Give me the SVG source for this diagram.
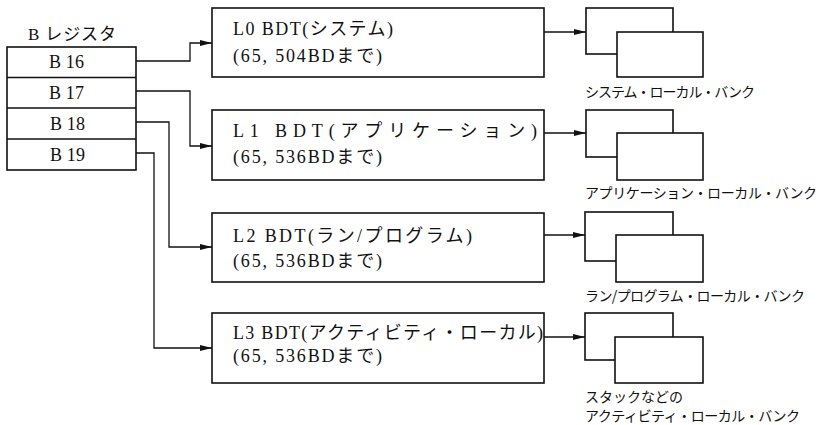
<svg xmlns="http://www.w3.org/2000/svg" width="819" height="425" viewBox="0 0 819 425">
<style>
.box{fill:#fff;stroke:#111;stroke-width:1.6}
.ln{fill:none;stroke:#111;stroke-width:1.3}
.t{font-family:"Liberation Serif","Noto Sans CJK JP",serif;fill:#111}
.lt{font-size:18px}
.rt{font-size:18px}
.bk{font-family:"Noto Sans CJK JP","Noto Sans",sans-serif;font-size:14px;fill:#111}
</style>
<defs>
<marker id="ah" markerWidth="12" markerHeight="8" refX="12" refY="4" orient="auto" markerUnits="userSpaceOnUse">
<path d="M0,1 L12,4 L0,7 Z" fill="#111"/>
</marker>
</defs>
<rect width="819" height="425" fill="#fff"/>

<g id="bregister">
<text class="t" x="28" y="40" font-size="17" textLength="88" lengthAdjust="spacing">B レジスタ</text>
<rect class="box" x="7" y="47" width="129" height="123"/>
<line class="ln" x1="7" y1="77.5" x2="136" y2="77.5"/>
<line class="ln" x1="7" y1="108" x2="136" y2="108"/>
<line class="ln" x1="7" y1="139" x2="136" y2="139"/>
<text class="t rt" x="49" y="68" textLength="35" lengthAdjust="spacing">B 16</text>
<text class="t rt" x="49" y="99" textLength="35" lengthAdjust="spacing">B 17</text>
<text class="t rt" x="50" y="130" textLength="35" lengthAdjust="spacing">B 18</text>
<text class="t rt" x="50" y="161" textLength="35" lengthAdjust="spacing">B 19</text>
</g>

<g id="l0">
<rect class="box" x="212" y="8" width="332" height="69"/>
<text class="t lt" x="233" y="35" textLength="160" lengthAdjust="spacing">L0 BDT(システム)</text>
<text class="t lt" x="233" y="62" textLength="149" lengthAdjust="spacing">(65, 504BDまで)</text>
</g>
<g id="l1">
<rect class="box" x="212" y="110" width="332" height="70"/>
<text class="t lt" x="233" y="137" textLength="304" lengthAdjust="spacing">L1 BDT(アプリケーション)</text>
<text class="t lt" x="233" y="163" textLength="149" lengthAdjust="spacing">(65, 536BDまで)</text>
</g>
<g id="l2">
<rect class="box" x="212" y="213" width="332" height="69"/>
<text class="t lt" x="233" y="242" textLength="239" lengthAdjust="spacing">L2 BDT(ラン/プログラム)</text>
<text class="t lt" x="233" y="267" textLength="149" lengthAdjust="spacing">(65, 536BDまで)</text>
</g>
<g id="l3">
<rect class="box" x="212" y="313" width="332" height="70"/>
<text class="t lt" x="233" y="339" textLength="310" lengthAdjust="spacing">L3 BDT(アクティビティ・ローカル)</text>
<text class="t lt" x="233" y="362" textLength="149" lengthAdjust="spacing">(65, 536BDまで)</text>
</g>

<g id="bank0">
<rect class="box" x="586" y="8" width="87" height="46"/>
<rect class="box" x="617" y="32" width="86" height="45"/>
<text class="bk" x="585" y="97" textLength="170" lengthAdjust="spacing">システム・ローカル・バンク</text>
</g>
<g id="bank1">
<rect class="box" x="586" y="110" width="87" height="47"/>
<rect class="box" x="617" y="133" width="86" height="47"/>
<text class="bk" x="585" y="198" textLength="232" lengthAdjust="spacing">アプリケーション・ローカル・バンク</text>
</g>
<g id="bank2">
<rect class="box" x="585" y="212" width="88" height="49"/>
<rect class="box" x="616" y="235" width="87" height="47"/>
<text class="bk" x="585" y="301" textLength="220" lengthAdjust="spacing">ラン/プログラム・ローカル・バンク</text>
</g>
<g id="bank3">
<rect class="box" x="585" y="313" width="88" height="47"/>
<rect class="box" x="615" y="337" width="88" height="46"/>
<text class="bk" x="585" y="402" textLength="98" lengthAdjust="spacing">スタックなどの</text>
<text class="bk" x="585" y="421" textLength="215" lengthAdjust="spacing">アクティビティ・ローカル・バンク</text>
</g>

<g id="connectors">
<polyline class="ln" points="136,61 190,61 190,43 212,43" marker-end="url(#ah)"/>
<polyline class="ln" points="136,91 190,91 190,146 212,146" marker-end="url(#ah)"/>
<polyline class="ln" points="136,122 169,122 169,247 212,247" marker-end="url(#ah)"/>
<polyline class="ln" points="136,153 154,153 154,348 212,348" marker-end="url(#ah)"/>
<line class="ln" x1="544" y1="32" x2="586" y2="32" marker-end="url(#ah)"/>
<line class="ln" x1="544" y1="133" x2="586" y2="133" marker-end="url(#ah)"/>
<line class="ln" x1="544" y1="235" x2="585" y2="235" marker-end="url(#ah)"/>
<line class="ln" x1="544" y1="337" x2="585" y2="337" marker-end="url(#ah)"/>
</g>
</svg>
